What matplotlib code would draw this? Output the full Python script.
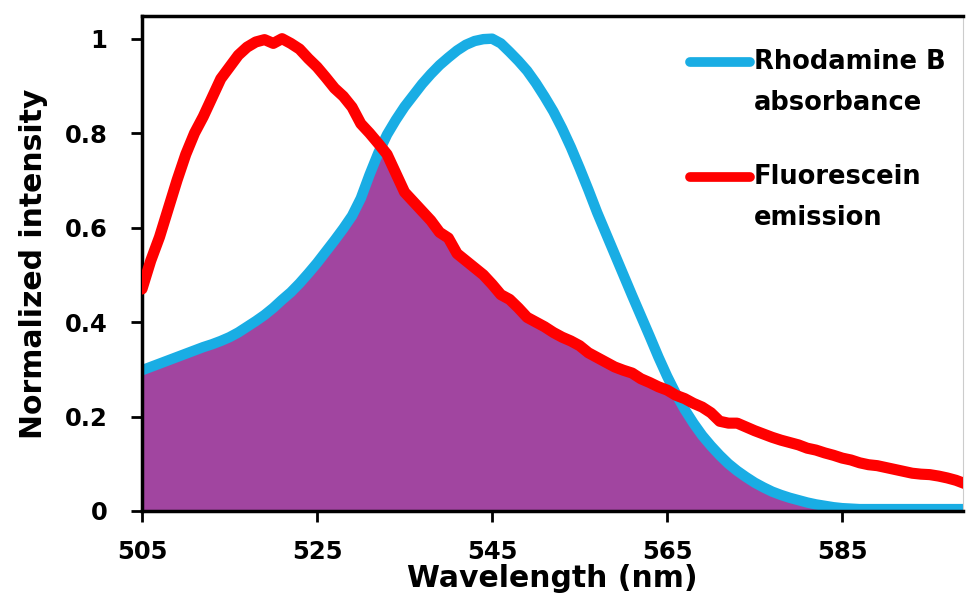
import numpy as np
import matplotlib
matplotlib.use("Agg")
import matplotlib.pyplot as plt
from matplotlib.lines import Line2D

plt.rcParams['font.family'] = ['DejaVu Sans']

# Wavelength grid (nm)
wavelength = list(range(505, 600))

# Normalized Rhodamine B absorbance
rhodamine_abs = [
    0.298, 0.305, 0.312, 0.319, 0.326, 0.333, 0.340, 0.347, 0.353, 0.360,
    0.368, 0.378, 0.390, 0.402, 0.415, 0.430, 0.447, 0.463, 0.482, 0.503,
    0.525, 0.549, 0.573, 0.598, 0.625, 0.662, 0.712, 0.758, 0.797, 0.828,
    0.856, 0.880, 0.904, 0.925, 0.944, 0.960, 0.975, 0.987, 0.995, 0.999,
    1.000, 0.990, 0.972, 0.953, 0.932, 0.906, 0.877, 0.846, 0.810, 0.770,
    0.726, 0.680, 0.632, 0.588, 0.544, 0.500, 0.456, 0.413, 0.370, 0.326,
    0.285, 0.248, 0.215, 0.186, 0.160, 0.138, 0.118, 0.100, 0.085, 0.072,
    0.060, 0.050, 0.041, 0.034, 0.028, 0.023, 0.018, 0.014, 0.011, 0.008,
    0.006, 0.005, 0.004, 0.004, 0.004, 0.004, 0.004, 0.004, 0.004, 0.004,
    0.004, 0.004, 0.004, 0.004, 0.004,
]

# Normalized fluorescein emission
fluorescein_em = [
    0.470, 0.530, 0.580, 0.640, 0.700, 0.755, 0.800, 0.835, 0.875, 0.915,
    0.940, 0.965, 0.982, 0.993, 0.998, 0.990, 1.000, 0.990, 0.978, 0.958,
    0.940, 0.918, 0.895, 0.878, 0.855, 0.820, 0.800, 0.778, 0.755, 0.715,
    0.675, 0.655, 0.635, 0.615, 0.590, 0.578, 0.545, 0.530, 0.515, 0.500,
    0.480, 0.458, 0.448, 0.430, 0.410, 0.400, 0.390, 0.378, 0.368, 0.360,
    0.350, 0.335, 0.325, 0.315, 0.305, 0.298, 0.292, 0.280, 0.272, 0.263,
    0.256, 0.245, 0.238, 0.228, 0.220, 0.208, 0.190, 0.186, 0.186, 0.178,
    0.170, 0.163, 0.156, 0.150, 0.145, 0.140, 0.133, 0.129, 0.123, 0.118,
    0.112, 0.108, 0.102, 0.098, 0.096, 0.092, 0.088, 0.084, 0.080, 0.078,
    0.077, 0.074, 0.070, 0.065, 0.058,
]

x_ticks = [505, 525, 545, 565, 585]
y_ticks = [0, 0.2, 0.4, 0.6, 0.8, 1]
y_tick_labels = ["0", "0.2", "0.4", "0.6", "0.8", "1"]
series_labels = ["Rhodamine B\nabsorbance", "Fluorescein\nemission"]

blue = "#19ADE4"
red = "#FF0000"
purple = "#A145A0"

W, H = 966, 609
fig = plt.figure(figsize=(W / 100, H / 100), dpi=100)
ax = fig.add_axes([142 / W, 1 - 511 / H, (963 - 142) / W, (511 - 16) / H])

wl = np.array(wavelength)
ab = np.array(rhodamine_abs)
em = np.array(fluorescein_em)

# Spectral overlap region
ax.fill_between(wl, 0, np.minimum(ab, em), color=purple, lw=0, zorder=1)
ax.plot(wl, ab, color=blue, lw=7.5, solid_capstyle='round',
        solid_joinstyle='round', zorder=2)
ax.plot(wl, em, color=red, lw=8, solid_capstyle='round',
        solid_joinstyle='round', zorder=3)

ax.set_xlim(505, 598.8)
ax.set_ylim(0, 1.048)
ax.set_xticks(x_ticks)
ax.set_xticklabels([str(v) for v in x_ticks])
ax.set_yticks(y_ticks)
ax.set_yticklabels(y_tick_labels)

for lab in ax.get_xticklabels() + ax.get_yticklabels():
    lab.set_fontweight('bold')
    lab.set_fontsize(17.5)

ax.tick_params(axis='both', direction='out', length=8, width=2, color='black')
ax.tick_params(axis='x', pad=13)
ax.tick_params(axis='y', pad=17)

for side in ['left', 'bottom', 'top']:
    ax.spines[side].set_color('black')
    ax.spines[side].set_linewidth(2.5)
ax.spines['right'].set_color('#cccccc')
ax.spines['right'].set_linewidth(0.8)

ax.set_xlabel("Wavelength (nm)", fontsize=21.5, fontweight='bold', labelpad=0)
ax.set_ylabel("Normalized intensity", fontsize=21.5, fontweight='bold', labelpad=12)

# Legend: handle aligned with the first line of each two-line label
entries = [(blue, 62), (red, 177)]
for (color, ypx), text in zip(entries, series_labels):
    yf = 1 - ypx / H
    fig.add_artist(Line2D([690 / W, 750 / W], [yf, yf], transform=fig.transFigure,
                          color=color, lw=7, solid_capstyle='round'))
    first, second = text.split("\n")
    fig.text(754 / W, yf, first, ha='left', va='center', fontsize=18.5,
             fontweight='bold')
    fig.text(754 / W, 1 - (ypx + 41) / H, second, ha='left', va='center',
             fontsize=18.5, fontweight='bold')

fig.savefig("out.png", dpi=100)
